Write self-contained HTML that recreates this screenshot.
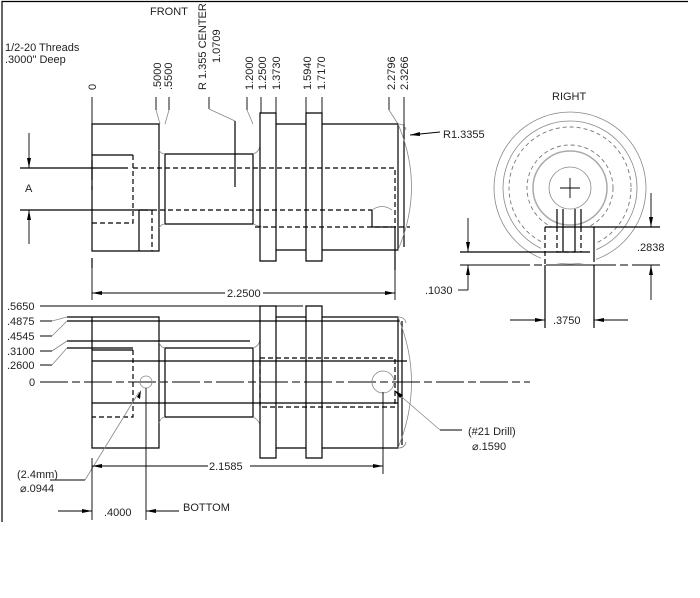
<!DOCTYPE html>
<html><head><meta charset="utf-8"><style>
html,body{margin:0;padding:0;background:#fff}
svg{display:block}
text{font-family:"Liberation Sans",sans-serif;font-size:11px;fill:#222}
.k{stroke:#000;stroke-width:1.2;fill:none}
.d{stroke:#000;stroke-width:1.2;fill:none;stroke-dasharray:5,3}
.g{stroke:#888;stroke-width:0.8;fill:none}
.gd{stroke:#777;stroke-width:0.9;fill:none;stroke-dasharray:4,3}
.t{stroke:#000;stroke-width:0.9;fill:none}
.c{stroke:#000;stroke-width:1.1;fill:none;stroke-dasharray:28,4,8,4}
</style></head><body>
<svg width="700" height="598" viewBox="0 0 700 598" xmlns="http://www.w3.org/2000/svg">
<defs><marker id="a" viewBox="0 0 10 6" refX="10" refY="3" markerWidth="10" markerHeight="6" orient="auto-start-reverse" markerUnits="userSpaceOnUse"><path d="M0,1 L10,3 L0,5z" fill="#000"/></marker></defs>
<path class="k" d="M2,522 V1.5 H688"/>

<text x="150" y="15">FRONT</text>
<text x="5" y="51">1/2-20 Threads</text>
<text x="5" y="63">.3000" Deep</text>
<g>
<text transform="translate(96,90) rotate(-90)">0</text>
<text transform="translate(161,90) rotate(-90)">.5000</text>
<text transform="translate(172,90) rotate(-90)">.5500</text>
<text transform="translate(206,90) rotate(-90)">R 1.355 CENTER</text>
<text transform="translate(220,63) rotate(-90)">1.0709</text>
<text transform="translate(253,90) rotate(-90)">1.2000</text>
<text transform="translate(266,90) rotate(-90)">1.2500</text>
<text transform="translate(280,90) rotate(-90)">1.3730</text>
<text transform="translate(311,90) rotate(-90)">1.5940</text>
<text transform="translate(325,90) rotate(-90)">1.7170</text>
<text transform="translate(395,90) rotate(-90)">2.2796</text>
<text transform="translate(408,90) rotate(-90)">2.3266</text>
</g>
<path class="t" d="M92,97 V124 M156,97 V110 M169,97 V110 M209,97 V109 M247,97 V110 M261,97 V113 M276,97 V113 M306,97 V113 M322,97 V113 M389,97 V110 M404,97 V124"/>
<path class="g" d="M156,110 L160,124 M169,110 L165,124 M209,109 L235,121 M247,110 L253,124 M389,110 L398,124"/>
<path class="k" d="M235,121 V187"/>
<path class="k" d="M92,124 H159 V251 H92 Z M159,124 V251 M165,154 H253 V224 H165 Z"/>
<path class="g" d="M159,150 Q161,154 165,154 M159,228 Q161,224 165,224 M253,154 Q259,152 260,146 M253,224 Q258,226 262,227"/>
<path class="k" d="M260,113 H276 V261 H260 Z M306,113 H322 V261 H306 Z M276,124 H306 M276,250 H306 M322,124 H398 V250 H322 M404,124 V247"/>
<path class="g" d="M398,124 Q425,187 398,250 M398,124 Q405,124 406,130"/>
<path class="k" d="M92,155 H133"/>
<path class="d" d="M133,155 V223 H92"/>
<path class="k" d="M20,168 H128 M20,210 H152"/>
<path class="d" d="M133,168 H395 V227 M152,210 H372"/>
<path class="d" d="M255,227 H410"/>
<path class="k" d="M372,210 V227 M372,227 H392 M395,227 V270"/>
<path class="g" d="M372,210 Q382,203 392,210"/>
<path class="k" d="M139,210 V251 M139,210 H148"/>
<path class="d" d="M152,210 V251"/>
<path class="k" d="M92,160 V180 M92,186 V190 M92,258 V268"/>
<path class="t" d="M29,133 V168" marker-end="url(#a)"/>
<path class="t" d="M29,244 V210" marker-end="url(#a)"/>
<text x="25" y="192">A</text>
<path class="t" d="M440,132 L410,135" marker-end="url(#a)"/>
<text x="443" y="138">R1.3355</text>
<path class="t" d="M92,258 V300 M395,270 V300"/>
<path class="t" d="M225,293 H92" marker-end="url(#a)"/>
<path class="t" d="M263,293 H395" marker-end="url(#a)"/>
<text x="227" y="297">2.2500</text>

<text x="7" y="310">.5650</text>
<text x="7" y="325">.4875</text>
<text x="7" y="340">.4545</text>
<text x="7" y="355">.3100</text>
<text x="7" y="369">.2600</text>
<text x="29" y="386">0</text>
<path class="t" d="M40,306 H303 M40,321 H52 M40,336 H52 M40,351 H52 M40,365 H52"/>
<path class="g" d="M52,321 L67,317 M52,336 L67,321 M52,351 L67,341 M52,365 L67,348"/>
<path class="k" d="M67,317 H92 M67,321 H400 M67,341 H250 M67,348 H133"/>
<path class="k" d="M92,317 H159 V448 H92 Z M165,348 H253 V417 H165 Z"/>
<path class="g" d="M159,342 Q161,348 165,348 M159,423 Q161,417 165,417 M253,348 Q259,346 260,340 M253,417 Q259,420 260,425"/>
<path class="k" d="M260,306 H276 V458 H260 Z M306,306 H322 V458 H306 Z M276,317 H306 M276,448 H306 M322,317 H398 V448 H322 M402,321 V445"/>
<path class="g" d="M398,317 Q425,382 398,448 M398,317 Q405,317 406,323 M398,448 Q405,448 406,442"/>
<path class="k" d="M92,350 H133"/>
<path class="d" d="M133,350 V417 H92"/>
<path class="k" d="M92,361 H407 M92,403 H398"/>
<path class="d" d="M260,358 H395 V407 H260 Z"/>
<path class="c" d="M40,382 H530"/>
<circle class="g" cx="146" cy="382" r="6"/>
<circle class="g" cx="383" cy="382" r="11"/>
<path class="g" d="M85,480 L139,392"/>
<path class="t" d="M50,480 H85"/>
<text x="17" y="478">(2.4mm)</text>
<text x="20" y="492">⌀.0944</text>
<path class="t" d="M92,458 V520 M146,388 V520 M383,392 V474"/>
<path class="t" d="M208,466 H92" marker-end="url(#a)"/>
<path class="t" d="M250,466 H383" marker-end="url(#a)"/>
<text x="209" y="470">2.1585</text>
<path class="t" d="M58,511 H92" marker-end="url(#a)"/>
<path class="t" d="M179,511 H146" marker-end="url(#a)"/>
<text x="104" y="516">.4000</text>
<text x="183" y="511">BOTTOM</text>
<path class="g" d="M440,430 L396,392"/>
<path d="M394,390 L403,395 L400,398 Z" fill="#000"/>
<path d="M141,390 L140,399 L137,397 Z" fill="#000"/>
<path class="t" d="M440,430 H462"/>
<text x="468" y="435">(#21 Drill)</text>
<text x="472" y="450">⌀.1590</text>

<text x="552" y="100">RIGHT</text>
<circle class="g" cx="570" cy="188" r="76"/>
<circle class="g" cx="570" cy="188" r="67"/>
<circle class="gd" cx="570" cy="188" r="61"/>
<circle class="gd" cx="570" cy="188" r="43"/>
<circle class="g" cx="570" cy="188" r="37" style="stroke-width:1.5;stroke:#aaa"/>
<circle class="g" cx="570" cy="188" r="21"/>
<path class="t" d="M560,188 H580 M570,178 V198"/>
<rect x="541" y="227" width="55" height="36" fill="#fff"/>
<path class="k" d="M545,227 H594 V262 M557,209 V227 M563,209 V252 M575,209 V252 M581,209 V227"/>
<path class="d" d="M545,227 V265 M557,227 V252 H575 M581,227 V252"/>
<path class="k" d="M460,252 H590"/>
<path class="c" d="M460,265 H660" style="stroke-dasharray:70,4,8,4"/>
<path class="k" d="M545,265 V328 M594,265 V328 M594,227 H660"/>
<path class="t" d="M651,193 V227" marker-end="url(#a)"/>
<path class="t" d="M651,300 V265" marker-end="url(#a)"/>
<text x="637" y="251">.2838</text>
<path class="t" d="M468,218 V252" marker-end="url(#a)"/>
<path class="t" d="M468,290 V265" marker-end="url(#a)"/>
<path class="t" d="M458,290 H468"/>
<text x="425" y="294">.1030</text>
<path class="t" d="M510,320 H545" marker-end="url(#a)"/>
<path class="t" d="M628,320 H594" marker-end="url(#a)"/>
<text x="553" y="324">.3750</text>
</svg>
</body></html>
